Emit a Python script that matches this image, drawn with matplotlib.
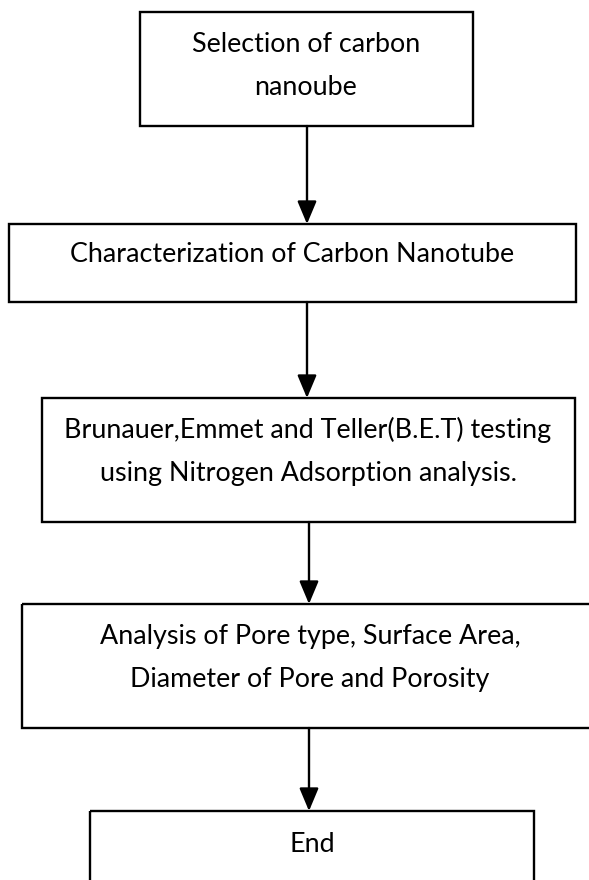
import matplotlib
matplotlib.use("Agg")
import matplotlib.pyplot as plt
from matplotlib.patches import Rectangle, FancyArrowPatch

# ---- content ----
step_labels = [
    "Selection of carbon\nnanoube",
    "Characterization of Carbon Nanotube",
    "Brunauer,Emmet and Teller(B.E.T) testing\nusing Nitrogen Adsorption analysis.",
    "Analysis of Pore type, Surface Area,\nDiameter of Pore and Porosity",
    "End",
]

# ---- layout (pixel coordinates, y downward) ----
box_left = [140, 9, 42, 22, 90]
box_right = [473, 576, 575, 600, 534]
box_top = [12, 224, 398, 604, 811]
box_bottom = [126, 302, 522, 728, 900]
text_x = [306, 292, 308, 310, 312]
text_y = [66, 255, 451, 658, 844]
arrow_x = [307, 307, 309, 309]

W, H = 589, 880
fig = plt.figure(figsize=(W / 100, H / 100), dpi=100)
ax = fig.add_axes([0, 0, 1, 1])
ax.set_xlim(0, W)
ax.set_ylim(H, 0)
ax.axis("off")

for i, lab in enumerate(step_labels):
    l, r, t, b = box_left[i], box_right[i], box_top[i], box_bottom[i]
    ax.add_patch(Rectangle((l, t), r - l, b - t, fill=False, edgecolor="black",
                           linewidth=1.7, clip_on=True))
    ax.text(text_x[i], text_y[i], lab, ha="center", va="center",
            fontsize=19.4, family=["Lato", "DejaVu Sans"], color="black",
            linespacing=1.9)

for i, x in enumerate(arrow_x):
    y0 = box_bottom[i]
    y1 = box_top[i + 1]
    arr = FancyArrowPatch((x, y0), (x, y1), arrowstyle="-|>,head_length=1.0,head_width=0.42",
                          mutation_scale=14, color="black", linewidth=1.7,
                          shrinkA=0, shrinkB=0)
    ax.add_patch(arr)

fig.savefig("out.png", dpi=100)
